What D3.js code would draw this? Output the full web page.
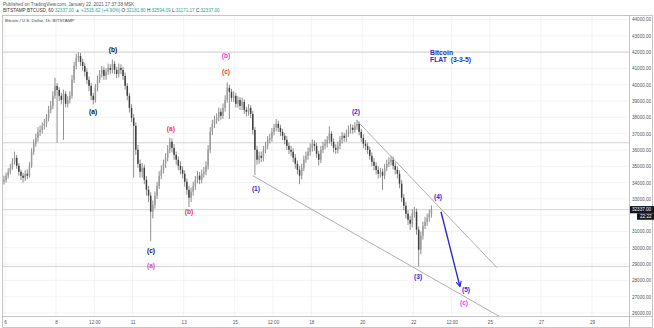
<!DOCTYPE html>
<html><head><meta charset="utf-8">
<script src="https://cdn.jsdelivr.net/npm/d3@7"></script>
<style>
html,body{margin:0;padding:0;background:#fff;}
svg{display:block;font-family:"Liberation Sans",Arial,sans-serif;}
</style></head><body>
<svg id="chart" width="654" height="328"></svg>
<script>
// BTCUSD (Bitstamp), 2-hour bars from 5 Jan 2021 20:00
const firstOpen = 33900;
const closes = [34050,34170,34420,34660,34910,35270,35520,35030,34660,34420,
34290,34540,34420,35030,35890,36380,36740,37110,37230,37480,
37600,37970,38460,38700,39320,39930,39680,39320,39070,39440,
38830,39070,39320,40300,41150,41640,41770,41400,41150,40790,
40300,39930,39320,39070,39810,40300,40660,40910,40540,40790,
41030,40910,41280,40910,40660,41030,40910,40540,39930,39320,
38580,37970,37480,36010,35150,34660,34910,34170,33560,33190,
32210,32640,33190,33800,34420,34780,35150,35520,36010,36500,
36130,35700,35400,35030,34780,34540,34050,33560,33070,33440,
33800,34170,34420,34170,34540,34660,35030,36010,37110,37600,
37850,37970,38340,38090,38580,39070,39810,39560,39190,39320,
38830,39070,38700,38950,38460,38340,38580,38210,37230,36010,
35400,35640,35520,36010,36250,36620,36740,37110,37360,37600,
37360,37110,36870,36620,36250,36010,35890,35520,35150,34780,
34420,34910,35400,35640,35890,36130,36380,36250,35760,35400,
36010,36250,36380,36620,36990,36500,36130,36010,36250,36620,
36870,36740,36990,37230,37360,37230,37480,37600,37110,36740,
36380,36250,36010,35640,35270,35030,34780,34540,34660,34420,
34910,35150,35270,35400,35030,34780,34540,33930,33070,32580,
32090,31720,31480,32090,32210,31110,29880,30740,31350,31600,
31840,32090,32337];
const highs = [34300,34420,34600,34880,35150,35500,35900,35700,35200,34800,
34600,34750,34800,35250,36100,36650,37000,37400,37500,37700,
37900,38200,38700,39000,39600,40420,40100,39850,39500,39700,
39600,39300,39600,40600,41400,41900,41990,41950,41600,41350,
41000,40500,40100,39500,40050,40550,40900,41150,41100,41000,
41300,41250,41550,41450,41100,41300,41250,41100,40750,40100,
39500,38800,38200,37700,36300,35400,35200,35100,34400,33800,
33400,32900,33450,34050,34700,35050,35400,35800,36300,36750,
36700,36350,35900,35600,35300,35000,34750,34250,33800,33700,
34050,34400,34700,34650,34800,34950,35300,36300,37400,37850,
38100,38250,38600,38550,38850,39350,40150,40000,39750,39600,
39500,39300,39250,39200,39100,38650,38800,38750,38400,37400,
36250,35900,35900,36250,36500,36850,37000,37350,37600,37900,
37800,37550,37300,37050,36850,36450,36250,36100,35750,35350,
35000,35150,35650,35900,36150,36400,36650,36600,36450,35950,
36250,36500,36650,36850,37450,37150,36700,36350,36500,36850,
37100,37050,37250,37500,37600,37550,37700,37850,37750,37300,
36950,36600,36450,36200,35850,35500,35250,35000,34900,34850,
35150,35400,35550,35650,35600,35250,35000,34750,34150,33300,
32800,32300,31950,32350,32500,32400,31300,31000,31600,31900,
32100,32350,32594];
const lows = [33750,33880,34000,34250,34500,34780,35100,34850,34420,34150,
34000,34100,34200,34300,34900,35700,36200,36500,36850,37000,
37250,37400,37750,38250,38500,39150,36450,39000,38800,36620,
38600,38600,38850,39150,40100,40950,41400,41150,40850,40500,
40050,39600,39050,38800,38900,39600,40100,40450,40300,40300,
40600,40650,40700,40650,40400,40450,40650,40300,39700,39050,
38300,37700,34300,35700,34900,34300,34300,33900,33200,32800,
30420,31800,32400,33000,33600,34200,34550,34900,35300,35800,
35850,35400,35100,34750,34500,34250,33750,33250,32500,32800,
33200,33550,33950,33900,33950,34300,34450,34800,35800,36900,
37350,37600,37750,37850,37900,38350,38900,37900,38950,38950,
38600,38600,38450,38450,38200,38050,38100,37950,36950,34450,
35100,35150,35250,35300,35800,36050,36400,36500,36900,37150,
37100,36850,36600,36350,36000,35750,35600,35250,34850,34500,
33900,34200,34700,35200,35400,35650,35900,35950,35500,35050,
35200,35800,36050,36150,36400,36250,35850,35750,35800,36050,
36400,36500,36500,36800,37000,37000,37050,37250,36900,36500,
36100,36000,35750,35400,35000,34750,34500,34250,34300,33550,
34200,34700,34950,35050,34800,34500,34250,33650,32800,32300,
31800,31400,31100,31250,31850,30800,28850,29600,30500,31150,
31350,31600,31850];
const startTime = Date.UTC(2021, 0, 5, 20);
const barHours = 2;

const priceTicks = d3.range(26000, 44001, 1000);
const timeTickDates = ["2021-01-06T00:00","2021-01-08T00:00","2021-01-09T12:00","2021-01-11T00:00",
  "2021-01-13T00:00","2021-01-15T00:00","2021-01-16T12:00","2021-01-18T00:00","2021-01-20T00:00",
  "2021-01-22T00:00","2021-01-23T12:00","2021-01-25T00:00","2021-01-27T00:00","2021-01-29T00:00"];
const timeTickLabels = ["6","8","12:00","11","13","15","12:00","18","20","22","12:00","25","27","29"];

const levelLines = [42000, 36440, 28850];
const lastPrice = 32337;

// Elliott wave annotations
const waveText  = ["(b)","(a)","(c)","(a)","(a)","(b)","(b)","(c)","(1)","(2)","(3)","(4)","(5)","(c)"];
const waveTime  = ["2021-01-10T05:30","2021-01-09T10:50","2021-01-11T17:20","2021-01-11T17:20",
  "2021-01-12T12:00","2021-01-13T05:00","2021-01-14T15:50","2021-01-14T15:50","2021-01-15T20:00",
  "2021-01-19T18:00","2021-01-22T04:30","2021-01-22T23:10","2021-01-24T01:30","2021-01-23T23:40"];
const wavePrice = [42130,38330,29760,28840,37290,32150,41760,40780,33560,38330,28170,33070,27370,26580];
const waveColor = ["#111","#111","#111","#e03ee0","#e53935","#e53935","#e03ee0","#e53935",
  "#2b2bd6","#2b2bd6","#2b2bd6","#2b2bd6","#2b2bd6","#e03ee0"];

const lowerChannel = [["2021-01-15T17:00",34420],["2021-01-25T14:00",25600]];
const upperChannel = [["2021-01-19T19:00",37790],["2021-01-25T06:40",28780]];
const projection   = [["2021-01-23T02:00",32210],["2021-01-23T19:50",27620]];
const noteLines = ["Bitcoin", "FLAT  (3-3-5)"];
const notePos = ["2021-01-22T15:40", 41950];

const t = s => new Date(s + ":00Z");

const svg = d3.select("#chart");
const pL = 2, pR = 629, pT = 15, pB = 316;

const x = d3.scaleUtc()
  .domain([t("2021-01-06T00:00"), t("2021-01-29T00:00")])
  .range([5, 592]);
const y = d3.scaleLinear().domain([26000, 44000]).range([313, 19.5]);

// header
const hdr = svg.append("g").attr("font-size", 4.6);
hdr.append("text").attr("x", 3).attr("y", 5.5).attr("fill", "#555")
  .text("Published on TradingView.com, January 22, 2021 17:37:38 MSK");
const l2 = hdr.append("text").attr("x", 3).attr("y", 11.5).attr("fill", "#333");
l2.append("tspan").text("BITSTAMP:BTCUSD, 60  ");
l2.append("tspan").attr("fill", "#26a69a").text("32337.00 ▲ +1515.62 (+4.90%) ");
[["O:", "32181.80"], ["H:", "32594.09"], ["L:", "31171.17"], ["C:", "32337.00"]].forEach(([k, v]) => {
  l2.append("tspan").attr("fill", "#333").text(k);
  l2.append("tspan").attr("fill", "#26a69a").text(v + " ");
});

// frame
svg.append("rect").attr("x", pL + 0.5).attr("y", pT + 0.5)
  .attr("width", 653 - pL - 1).attr("height", 327.5 - pT - 0.5)
  .attr("fill", "none").attr("stroke", "#b8b8b8").attr("stroke-width", 0.8);

svg.append("clipPath").attr("id", "plotClip").append("rect")
  .attr("x", pL + 1).attr("y", pT + 1).attr("width", pR - pL - 1).attr("height", pB - pT - 1);

// grid
const grid = svg.append("g").attr("clip-path", "url(#plotClip)");
grid.selectAll("line.h").data(priceTicks).join("line")
  .attr("x1", pL).attr("x2", pR).attr("y1", d => y(d)).attr("y2", d => y(d))
  .attr("stroke", "#eff0f3").attr("stroke-width", 0.8);
grid.selectAll("line.v").data(timeTickDates).join("line")
  .attr("x1", d => x(t(d))).attr("x2", d => x(t(d))).attr("y1", pT).attr("y2", pB)
  .attr("stroke", "#eff0f3").attr("stroke-width", 0.8);

const plot = svg.append("g").attr("clip-path", "url(#plotClip)");

// horizontal levels and last price line
plot.selectAll("line.lvl").data(levelLines.concat([lastPrice])).join("line")
  .attr("x1", pL).attr("x2", pR).attr("y1", d => y(d)).attr("y2", d => y(d))
  .attr("stroke", "#c9c9c9").attr("stroke-width", 0.8);

// candles
const bars = closes.map((c, i) => ({
  time: new Date(startTime + (i * barHours + barHours / 2) * 3600e3),
  open: i === 0 ? firstOpen : closes[i - 1],
  high: highs[i], low: lows[i], close: c
}));
const bw = 1.5;
const cg = plot.append("g");
cg.selectAll("line.wick").data(bars).join("line")
  .attr("x1", d => x(d.time)).attr("x2", d => x(d.time))
  .attr("y1", d => y(d.high)).attr("y2", d => y(d.low))
  .attr("stroke", "#6a6a6a").attr("stroke-width", 0.75);
cg.selectAll("rect.body").data(bars).join("rect")
  .attr("x", d => x(d.time) - bw / 2).attr("width", bw)
  .attr("y", d => y(Math.max(d.open, d.close)))
  .attr("height", d => Math.max(0.7, Math.abs(y(d.open) - y(d.close))))
  .attr("fill", d => d.close >= d.open ? "#9c9c9c" : "#3f3f3f");

// channel lines
const line = d3.line().x(d => x(t(d[0]))).y(d => y(d[1]));
plot.append("path").attr("d", line(lowerChannel)).attr("fill", "none")
  .attr("stroke", "#9a9a9a").attr("stroke-width", 0.8);
plot.append("path").attr("d", line(upperChannel)).attr("fill", "none")
  .attr("stroke", "#9a9a9a").attr("stroke-width", 0.8);

// projected wave (5) arrow
svg.append("defs").append("marker").attr("id", "ah")
  .attr("viewBox", "0 0 8 8").attr("refX", 7).attr("refY", 4)
  .attr("markerWidth", 7).attr("markerHeight", 7).attr("markerUnits", "userSpaceOnUse")
  .attr("orient", "auto")
  .append("path").attr("d", "M1,1 L7,4 L1,7").attr("fill", "none")
  .attr("stroke", "#2b2bd6").attr("stroke-width", 1.3);
plot.append("path").attr("d", line(projection)).attr("fill", "none")
  .attr("stroke", "#2b2bd6").attr("stroke-width", 1.4).attr("marker-end", "url(#ah)");

// wave labels
plot.selectAll("text.wave").data(waveText).join("text")
  .attr("x", (d, i) => x(t(waveTime[i]))).attr("y", (d, i) => y(wavePrice[i]))
  .attr("text-anchor", "middle").attr("dominant-baseline", "middle")
  .attr("font-size", 6.6).attr("font-weight", "bold")
  .attr("fill", (d, i) => waveColor[i]).text(d => d);

// note
plot.selectAll("text.note").data(noteLines).join("text")
  .attr("x", x(t(notePos[0]))).attr("y", (d, i) => y(notePos[1]) + i * 7.5)
  .attr("dominant-baseline", "middle")
  .attr("font-size", 6.8).attr("font-weight", "bold").attr("fill", "#2b2bd6")
  .style("white-space", "pre").text(d => d);

// chart title
svg.append("text").attr("x", 5).attr("y", 21.5).attr("font-size", 4.4).attr("fill", "#444")
  .text("Bitcoin / U.S. Dollar, 1h, BITSTAMP");

// price axis (labels hidden behind the last-price tag are skipped)
svg.append("line").attr("x1", pR + 0.5).attr("x2", pR + 0.5).attr("y1", pT).attr("y2", 327.5)
  .attr("stroke", "#b8b8b8").attr("stroke-width", 0.8);
const tagY = y(lastPrice);
const visiblePriceTicks = priceTicks.filter(v => Math.abs(y(v) - tagY) > 7 && !(y(v) > tagY && y(v) - tagY < 12));
const ya = svg.append("g").attr("transform", `translate(${pR},0)`)
  .call(d3.axisRight(y).tickValues(visiblePriceTicks).tickFormat(d3.format(".2f")).tickSize(0).tickPadding(3));
ya.select(".domain").remove();
ya.selectAll("text").attr("font-size", 4.6).attr("fill", "#555").attr("font-family", null);

// time axis
svg.append("line").attr("x1", pL).attr("x2", 653).attr("y1", pB + 0.5).attr("y2", pB + 0.5)
  .attr("stroke", "#b8b8b8").attr("stroke-width", 0.8);
const xa = svg.append("g").attr("transform", `translate(0,${pB})`)
  .call(d3.axisBottom(x).tickValues(timeTickDates.map(t))
    .tickFormat((d, i) => timeTickLabels[i]).tickSize(0).tickPadding(4.5));
xa.select(".domain").remove();
xa.selectAll("text").attr("font-size", 4.6).attr("fill", "#555").attr("font-family", null);

// last price tag and bar countdown
svg.append("rect").attr("x", pR + 1).attr("y", tagY - 3.6).attr("width", 24).attr("height", 7.2).attr("fill", "#131722");
svg.append("text").attr("x", pR + 3).attr("y", tagY).attr("dominant-baseline", "middle")
  .attr("font-size", 4.6).attr("fill", "#fff").text(d3.format(".2f")(lastPrice));
svg.append("rect").attr("x", pR + 8).attr("y", tagY + 3.6).attr("width", 17).attr("height", 6.5).attr("fill", "#131722");
svg.append("text").attr("x", pR + 11).attr("y", tagY + 6.9).attr("dominant-baseline", "middle")
  .attr("font-size", 4.6).attr("fill", "#fff").text("22:22");
</script>
</body></html>
